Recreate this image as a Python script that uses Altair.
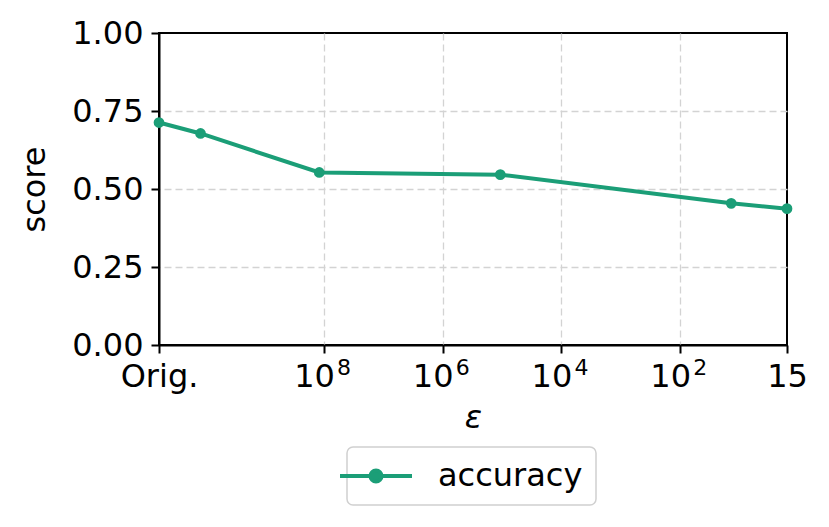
import altair as alt
import pandas as pd

# values
eps_pos = [10.78, 10.08, 8.08, 5.03, 1.14, 0.2]   # position on a reversed log10(epsilon) axis
accuracy = [0.713, 0.678, 0.553, 0.546, 0.454, 0.437]
metric = ["accuracy"] * 6
x_tick_pos = [10.78, 8, 6, 4, 2, 0.2]
x_tick_labels = ["Orig.", "10", "10", "10", "10", "15"]
exp_pos = [8, 6, 4, 2]
exp_labels = ["8", "6", "4", "2"]
y_ticks = [0, 0.25, 0.5, 0.75, 1.0]

GREEN = "#1b9e77"
FONT = "DejaVu Sans"
FS = 32

df = pd.DataFrame({"eps": eps_pos, "score": accuracy, "metric": metric})
exp_df = pd.DataFrame({"eps": exp_pos, "exp": exp_labels})

label_expr = "''"
for p, l in reversed(list(zip(x_tick_pos, x_tick_labels))):
    label_expr = f"abs(datum.value - {p}) < 0.01 ? '{l}' : ({label_expr})"

x_scale = alt.Scale(domain=[min(x_tick_pos), max(x_tick_pos)], reverse=True, nice=False, zero=False)
y_scale = alt.Scale(domain=[0, 1], nice=False)

x_enc = alt.X(
    "eps:Q", scale=x_scale,
    axis=alt.Axis(values=x_tick_pos, labelExpr=label_expr, title="ε", titleFontStyle="italic",
                  titleFontWeight="normal", titleFontSize=FS, titlePadding=10,
                  labelPadding=8, labelFlush=False, labelOverlap=False,
                  labelOffset={"condition": {"test": "datum.value > 1 && datum.value < 9", "value": -10},
                               "value": 0},
                  gridOpacity={"condition": {"test": "datum.value > 10 || datum.value < 1", "value": 0},
                               "value": 1}),
)
y_enc = alt.Y(
    "score:Q", scale=y_scale,
    axis=alt.Axis(values=y_ticks, format=".2f", title="score", titleFontWeight="normal",
                  titleFontSize=FS, titlePadding=20, labelPadding=8,
                  gridOpacity={"condition": {"test": "datum.value > 0.99 || datum.value < 0.01", "value": 0},
                               "value": 1}),
)

legend_symbol = ("M-3,0L3,0M-0.46,0A0.46,0.46,0,1,1,0.46,0"
                 "A0.46,0.46,0,1,1,-0.46,0Z")

line = alt.Chart(df).mark_line(strokeWidth=4).encode(
    x=x_enc, y=y_enc,
    color=alt.Color("metric:N", scale=alt.Scale(domain=["accuracy"], range=[GREEN]),
                    legend=alt.Legend(title=None, orient="none", legendX=188, legendY=414,
                                      symbolType=legend_symbol, symbolSize=576,
                                      symbolStrokeWidth=4, symbolFillColor=GREEN,
                                      symbolStrokeColor=GREEN, labelFontSize=FS,
                                      labelFont=FONT, labelOffset=46, padding=13,
                                      strokeColor="#d0d0d0", cornerRadius=6,
                                      fillColor="white")),
)
points = alt.Chart(df).mark_circle(size=115, opacity=1).encode(
    x=x_enc, y=y_enc,
    color=alt.Color("metric:N", scale=alt.Scale(domain=["accuracy"], range=[GREEN]), legend=None),
)
exps = alt.Chart(exp_df).mark_text(fontSize=22, font=FONT, dx=20, dy=23, baseline="middle",
                                   align="center", color="black").encode(
    x=alt.X("eps:Q", scale=x_scale),
    y=alt.datum(0, scale=y_scale),
    text="exp:N",
)

chart = alt.layer(line, points, exps).properties(
    width=628, height=312,
    autosize=alt.AutoSizeParams(type="none"),
    padding={"left": 151, "top": 25, "right": 30, "bottom": 170},
).configure_view(stroke="black", strokeWidth=2).configure_axis(
    labelFont=FONT, titleFont=FONT, labelFontSize=FS, labelColor="black", titleColor="black",
    domainColor="black", domainWidth=2, tickColor="black", tickWidth=2, tickSize=8,
    gridColor="#d3d3d3", gridDash=[7, 4], gridWidth=1.3,
).configure_legend(labelColor="black", strokeWidth=1.5)

chart.save("out.html", embed_options={"renderer": "svg", "actions": False})
